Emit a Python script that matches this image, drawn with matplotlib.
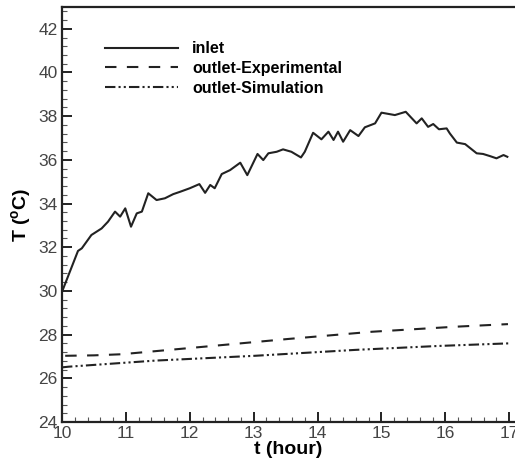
import matplotlib.pyplot as plt
from matplotlib.ticker import MultipleLocator

# inlet temperature (hour, degC)
t_inlet = [10.0, 10.25, 10.31, 10.46, 10.62, 10.72, 10.83, 10.91, 10.99, 11.08,
           11.17, 11.25, 11.35, 11.48, 11.61, 11.74, 11.85, 12.0, 12.15, 12.24,
           12.32, 12.39, 12.5, 12.63, 12.79, 12.9, 13.06, 13.15, 13.23, 13.36,
           13.46, 13.59, 13.74, 13.8, 13.93, 14.06, 14.17, 14.25, 14.32, 14.4,
           14.51, 14.64, 14.74, 14.9, 15.0, 15.21, 15.38, 15.55, 15.63, 15.73,
           15.81, 15.9, 16.02, 16.07, 16.18, 16.31, 16.49, 16.59, 16.7, 16.8,
           16.91, 16.97]
T_inlet = [29.96, 31.83, 31.95, 32.56, 32.86, 33.17, 33.63, 33.4, 33.78, 32.94,
           33.55, 33.63, 34.47, 34.16, 34.24, 34.43, 34.54, 34.7, 34.89, 34.49,
           34.85, 34.7, 35.35, 35.53, 35.87, 35.3, 36.27, 35.99, 36.3, 36.37,
           36.48, 36.37, 36.11, 36.37, 37.24, 36.94, 37.29, 36.91, 37.29, 36.83,
           37.36, 37.09, 37.49, 37.67, 38.16, 38.05, 38.2, 37.67, 37.9, 37.51,
           37.64, 37.4, 37.44, 37.21, 36.79, 36.72, 36.3, 36.27, 36.17, 36.07,
           36.22, 36.14]

# outlet, measured
t_exp = [10.05, 10.5, 10.93, 12.24, 13.54, 14.85, 16.15, 16.98]
T_exp = [27.03, 27.05, 27.1, 27.45, 27.8, 28.13, 28.36, 28.48]

# outlet, simulated
t_sim = [10.0, 10.1, 11.46, 13.02, 14.59, 15.89, 17.0]
T_sim = [26.5, 26.53, 26.81, 27.03, 27.3, 27.48, 27.6]

plt.rcParams['font.family'] = ['Liberation Sans', 'DejaVu Sans']

fig = plt.figure(figsize=(5.15, 4.63), dpi=100)
ax = fig.add_axes([0.1204, 0.0886, 0.8796, 0.8964])

lw = 1.5
ink = '#222222'
ax.plot(t_inlet, T_inlet, color=ink, lw=lw, solid_joinstyle='round',
        label='inlet')
ax.plot(t_exp, T_exp, color=ink, lw=lw, dashes=(5.5, 5),
        label='outlet-Experimental')
ax.plot(t_sim, T_sim, color=ink, lw=lw,
        dashes=(5, 1.5, 1, 1.5, 1, 1.5), label='outlet-Simulation')

ax.set_xlim(10, 17.09)
ax.set_ylim(24, 43.0)
ax.xaxis.set_major_locator(MultipleLocator(1))
ax.xaxis.set_minor_locator(MultipleLocator(0.2))
ax.yaxis.set_major_locator(MultipleLocator(2))
ax.yaxis.set_minor_locator(MultipleLocator(0.4))
ax.tick_params(which='major', direction='in', length=7.5, width=1.4,
               color=ink, labelsize=12.5, labelcolor='#444444', pad=3)
ax.tick_params(which='minor', direction='in', length=3.8, width=0.8,
               color='#555555')

ax.spines['right'].set_visible(False)
for side in ['left', 'bottom', 'top']:
    ax.spines[side].set_linewidth(1.6)
    ax.spines[side].set_color(ink)

ax.set_xlabel('t (hour)', fontsize=14, fontweight='bold', labelpad=0)
ax.set_ylabel(r'T ($\mathregular{^o}$C)', fontsize=14, fontweight='bold',
              labelpad=4)

ax.legend(loc='upper left', bbox_to_anchor=(0.063, 0.952), frameon=False,
          handlelength=4.6, handletextpad=0.85, labelspacing=0.3,
          prop={'weight': 'bold', 'size': 11.5})

fig.savefig('out.png', dpi=100)
